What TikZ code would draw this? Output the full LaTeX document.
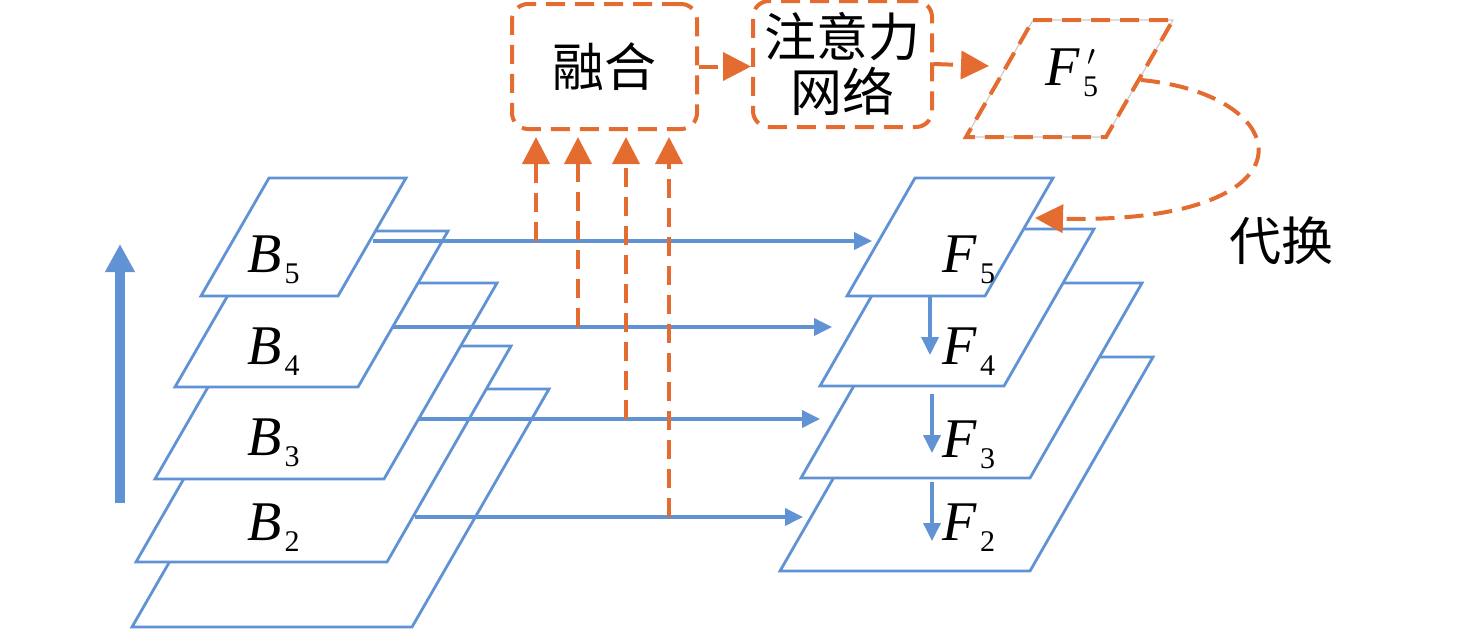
\documentclass[tikz,border=0pt]{standalone}
\usepackage{fontspec}
\setmainfont{Liberation Serif}
\newfontfamily\cjk{Noto Sans CJK SC}
\usetikzlibrary{arrows.meta}
\definecolor{planeblue}{RGB}{96,146,212}
\definecolor{fuseorange}{RGB}{228,108,48}
\newcommand\lay[2]{\textit{#1}\kern1.5pt\raisebox{-5.5pt}{\fontsize{15}{15}\selectfont #2}}
\newcommand\layp[2]{\textit{#1}\kern1.5pt\rlap{\kern2pt\raisebox{10pt}{\fontsize{15}{15}\selectfont$\prime$}}\raisebox{-5.5pt}{\fontsize{15}{15}\selectfont #2}}
\tikzset{
  plane/.style={draw=planeblue, line width=1.4pt, fill=white},
  lat/.style={draw=planeblue, line width=1.8pt, -{Triangle[length=9pt,width=8.5pt]}},
  fuse/.style={draw=fuseorange, line width=2pt, dash pattern=on 9.5pt off 5pt},
  fusearrow/.style={fuse, -{Triangle[length=14pt,width=14pt]}},
  lbl/.style={font=\fontsize{28}{30}\selectfont, inner sep=0pt, anchor=base west},
  cn/.style={font=\cjk\fontsize{26}{27.5}\selectfont, align=center}
}
\begin{document}
\begin{tikzpicture}[x=0.5pt, y=-0.5pt]
      \useasboundingbox (0,0) rectangle (1476,632);
      \draw[plane] (269,389) -- (549,389) -- (412,627) -- (132,627) -- cycle;
      \draw[plane] (260,346) -- (511,346) -- (387,562) -- (136,562) -- cycle;
      \draw[plane] (268,283) -- (497,283) -- (384,479) -- (155,479) -- cycle;
      \draw[plane] (265,231) -- (448,231) -- (358,387) -- (175,387) -- cycle;
      \draw[plane] (269,178) -- (406,178) -- (338,296) -- (201,296) -- cycle;
      \draw[plane] (903,357) -- (1153,357) -- (1030,571) -- (780,571) -- cycle;
      \draw[plane] (913,283) -- (1142,283) -- (1030,478) -- (801,478) -- cycle;
      \draw[plane] (910,229) -- (1094,229) -- (1004,386) -- (820,386) -- cycle;
      \draw[plane] (915,178) -- (1053,178) -- (985,296) -- (847,296) -- cycle;
      \draw[gray!40, line width=0.6pt] (1033,20) -- (1173,20) -- (1106,137) -- (966,137) -- cycle;
      \draw[fuse] (1033,20) -- (1173,20) -- (1106,137) -- (966,137) -- cycle;
      \node[lbl] (b5) at (247,272) {\lay{B}{5}};
      \node[lbl] (b4) at (247,364) {\lay{B}{4}};
      \node[lbl] (b3) at (247,455) {\lay{B}{3}};
      \node[lbl] (b2) at (247,540) {\lay{B}{2}};
      \node[lbl] (f5) at (942,272) {\lay{F}{5}};
      \node[lbl] (f4) at (942,364) {\lay{F}{4}};
      \node[lbl] (f3) at (942,457) {\lay{F}{3}};
      \node[lbl] (f2) at (942,540) {\lay{F}{2}};
      \node[lbl] (f5p) at (1045,85) {\layp{F}{5}};
      \node[cn, draw=fuseorange, line width=2pt, dash pattern=on 9.5pt off 5pt, rounded corners=8pt,
        minimum width=92.5pt, minimum height=62.5pt] (fuse) at (604.5,66.5) {融合};
      \node[cn, draw=fuseorange, line width=2pt, dash pattern=on 9.5pt off 5pt, rounded corners=8pt,
        minimum width=89.5pt, minimum height=63pt, inner sep=0pt] (attn) at (842.5,64) {注意力\\网络};
      \node[cn] (swap) at (1281,241) {代换};
      \coordinate (b5o) at (373,241);
      \coordinate (b4o) at (393,327);
      \coordinate (b3o) at (419,419);
      \coordinate (b2o) at (415,517);
      \coordinate (f5i) at (872,241);
      \coordinate (f4i) at (832,327);
      \coordinate (f3i) at (820,419);
      \coordinate (f2i) at (803,517);
      \coordinate (t5) at (536,241);
      \coordinate (t4) at (578,327);
      \coordinate (t3) at (626,419);
      \coordinate (t2) at (669,517);
      \coordinate (d5) at (930,296);
      \coordinate (d4) at (932,394);
      \coordinate (d3) at (932,482);
      \coordinate (p5in) at (989,66);
      \coordinate (p5out) at (1141,80);
      \coordinate (f5r) at (1035,218);
      \coordinate (up0) at (120,503);
      \coordinate (up1) at (120,244);
      \draw[planeblue, line width=5pt, -{Triangle[length=14pt,width=14pt]}] (up0) -- (up1);
      \draw[lat] (b5o) -- (f5i);
      \draw[lat] (b4o) -- (f4i);
      \draw[lat] (b3o) -- (f3i);
      \draw[lat] (b2o) -- (f2i);
      \draw[lat] (d5) -- ++(0,59);
      \draw[lat] (d4) -- ++(0,59);
      \draw[lat] (d3) -- ++(0,59);
      \begin{scope}[-{Triangle[length=13.5pt,width=13.5pt]}, shorten >=3pt]
        \draw[fuse] (t5) -- (t5 |- fuse.south);
        \draw[fuse] (t4) -- (t4 |- fuse.south);
        \draw[fuse] (t3) -- (t3 |- fuse.south);
        \draw[fuse] (t2) -- (t2 |- fuse.south);
      \end{scope}
      \draw[fusearrow] (fuse.east) -- (fuse.east -| attn.west);
      \draw[fusearrow] (attn.east) -- (p5in);
      \draw[fusearrow] (p5out) .. controls (1300,95) and (1320,225) .. (f5r);
    \end{tikzpicture}
\end{document}
